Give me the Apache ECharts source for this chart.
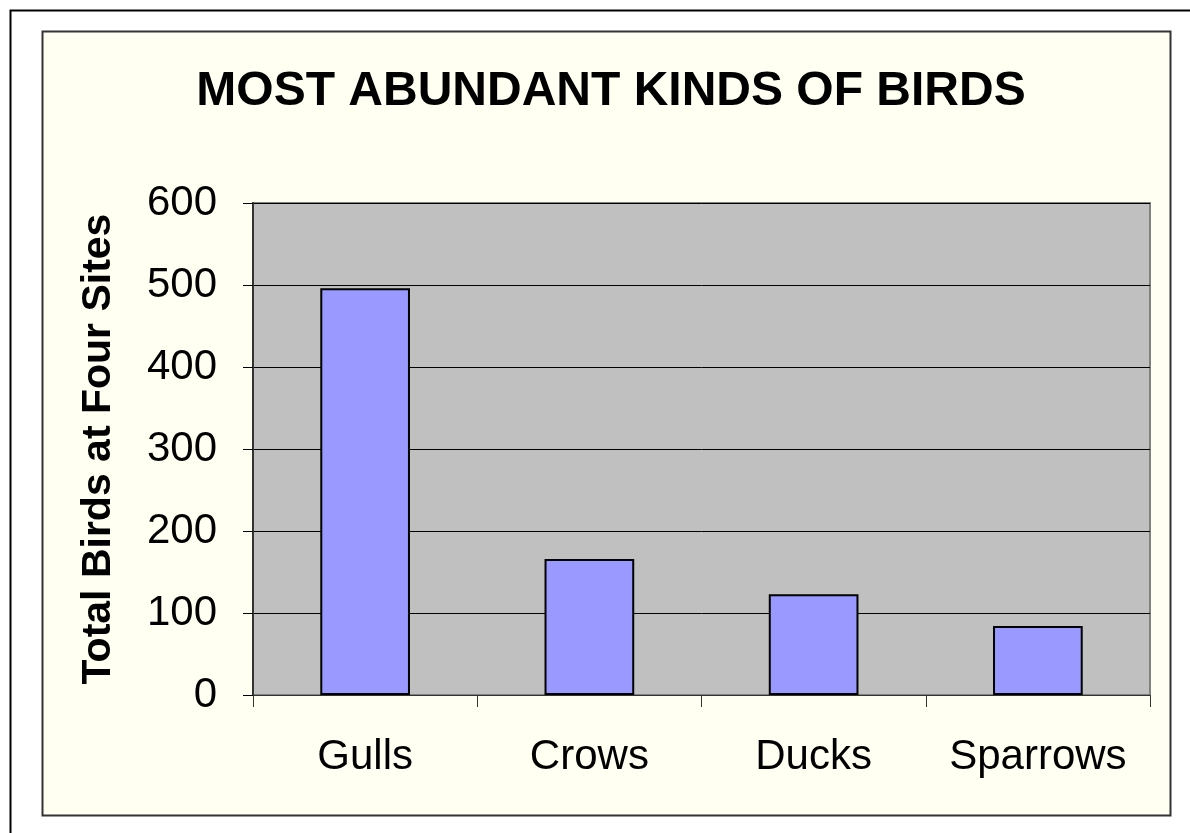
<!DOCTYPE html>
<html><head><meta charset="utf-8">
<script src="https://cdn.jsdelivr.net/npm/echarts@6/dist/echarts.min.js"></script>
<style>html,body{margin:0;padding:0;background:#fff}#c{width:1190px;height:833px}</style>
</head><body><div id="c"></div>
<script>
const categories = ['Gulls', 'Crows', 'Ducks', 'Sparrows'];
const totals = [496, 166, 123, 84];
const yTicks = [0, 100, 200, 300, 400, 500, 600];

const chart = echarts.init(document.getElementById('c'));
const font = '"Liberation Sans", Arial, sans-serif';
chart.setOption({
  animation: false,
  backgroundColor: '#ffffff',
  graphic: [
    { type: 'rect', z: -10, shape: { x: 10.5, y: 10.5, width: 1200, height: 900 }, style: { fill: '#ffffff', stroke: '#000', lineWidth: 2 } },
    { type: 'rect', z: -9, shape: { x: 42.5, y: 31.5, width: 1128, height: 784 }, style: { fill: '#FFFFF2', stroke: '#333', lineWidth: 2 } }
  ],
  title: {
    text: 'MOST ABUNDANT KINDS OF BIRDS',
    left: 606, top: 63, textAlign: 'center',
    textStyle: { fontFamily: font, fontWeight: 'bold', fontSize: 48, color: '#000' }
  },
  grid: {
    left: 253, top: 203, right: 40, bottom: 138,
    show: true, backgroundColor: '#C0C0C0', borderColor: '#808080', borderWidth: 2
  },
  xAxis: {
    type: 'category', data: categories,
    axisLine: { show: true, lineStyle: { color: '#333', width: 1 } },
    axisTick: { show: true, interval: 0, length: 12, alignWithLabel: false, lineStyle: { color: '#333' } },
    axisLabel: { interval: 0, fontFamily: font, fontSize: 42, color: '#000', margin: 41 }
  },
  yAxis: {
    type: 'value', min: yTicks[0], max: yTicks[yTicks.length - 1], interval: 100,
    name: 'Total Birds at Four Sites', nameLocation: 'middle', nameGap: 134,
    nameTextStyle: { fontFamily: font, fontWeight: 'bold', fontSize: 41, color: '#000' },
    axisLine: { show: true, lineStyle: { color: '#333', width: 2 } },
    axisTick: { show: true, length: 10, lineStyle: { color: '#000' } },
    axisLabel: { fontFamily: font, fontSize: 42, color: '#000', margin: 36 },
    splitLine: { show: true, lineStyle: { color: '#000', width: 1 } }
  },
  series: [{
    type: 'bar', data: totals, barWidth: '40%',
    itemStyle: { color: '#9999FF', borderColor: '#000', borderWidth: 2 }
  }]
});
</script></body></html>
